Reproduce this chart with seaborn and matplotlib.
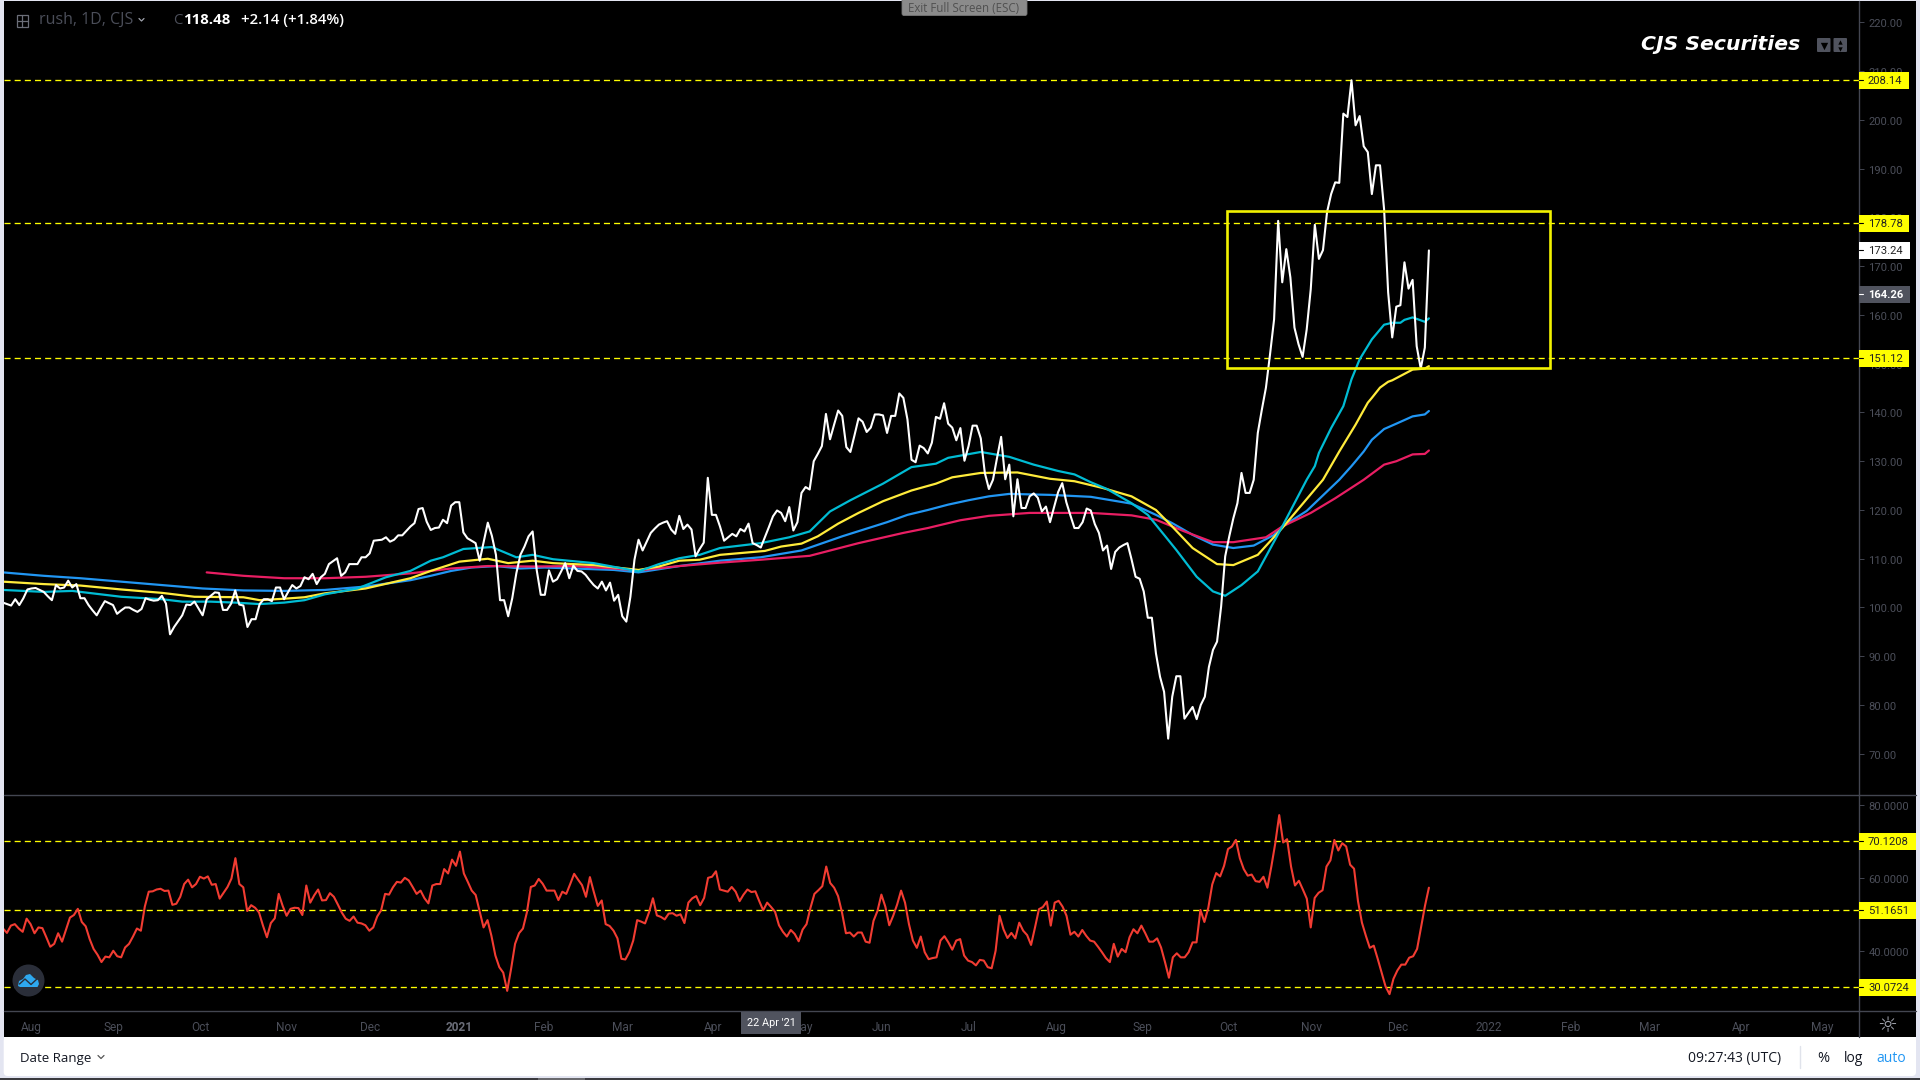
import numpy as np
import pandas as pd
import seaborn as sns
import matplotlib
matplotlib.use('Agg')
import matplotlib.pyplot as plt
from matplotlib.patches import Rectangle, FancyBboxPatch, Ellipse, Polygon
from matplotlib.transforms import ScaledTranslation

# Daily close, one value per bar
close = [
    101.0, 100.7, 100.4, 101.7, 100.5, 101.9, 103.7, 103.9, 104.0, 103.6,
    103.2, 102.3, 101.5, 104.6, 103.9, 104.1, 105.5, 104.1, 104.8, 101.9,
    101.9, 100.5, 99.4, 98.4, 99.9, 101.3, 100.9, 100.5, 98.7, 99.4,
    100.0, 100.0, 99.5, 99.1, 99.7, 101.9, 101.6, 101.4, 101.5, 102.4,
    100.8, 94.5, 96.0, 97.2, 98.4, 100.6, 100.5, 101.2, 99.8, 98.4,
    101.7, 102.4, 103.1, 103.0, 99.5, 99.5, 100.8, 103.5, 100.6, 100.4,
    96.0, 97.6, 97.6, 100.7, 101.7, 101.7, 101.3, 104.1, 104.1, 101.7,
    103.2, 104.6, 103.9, 104.4, 106.2, 105.8, 106.9, 104.8, 106.2, 106.9,
    108.9, 109.5, 110.1, 106.5, 107.2, 108.9, 108.9, 108.9, 110.3, 110.3,
    111.1, 113.7, 113.8, 113.9, 114.4, 113.5, 113.9, 114.8, 114.8, 115.7,
    116.6, 117.3, 120.2, 120.4, 117.6, 115.9, 116.3, 116.4, 118.0, 117.3,
    120.9, 121.6, 121.6, 115.4, 114.2, 113.7, 113.2, 109.6, 113.5, 117.4,
    114.7, 110.8, 101.5, 101.5, 98.2, 101.9, 107.0, 110.8, 112.5, 114.6,
    115.6, 107.7, 102.6, 102.6, 107.6, 105.3, 105.8, 107.4, 109.1, 106.0,
    108.6, 107.5, 107.4, 106.7, 105.6, 104.6, 103.9, 105.3, 103.5, 105.1,
    101.4, 102.6, 98.2, 97.1, 102.2, 109.8, 113.9, 111.7, 113.5, 115.3,
    116.2, 117.0, 117.4, 117.7, 116.0, 115.1, 118.8, 116.1, 117.0, 116.0,
    110.5, 112.0, 113.3, 126.6, 119.0, 119.0, 116.6, 113.7, 114.4, 115.1,
    114.6, 116.1, 115.6, 117.2, 113.2, 112.8, 112.3, 114.4, 116.5, 118.7,
    119.9, 119.4, 117.7, 120.6, 115.8, 117.5, 123.5, 124.7, 124.2, 130.0,
    131.5, 133.1, 139.7, 134.5, 137.5, 140.4, 139.3, 132.9, 131.9, 135.3,
    138.8, 138.1, 136.0, 136.9, 139.6, 139.6, 139.4, 135.8, 139.3, 139.3,
    143.9, 143.0, 138.6, 130.3, 129.8, 133.2, 132.7, 131.6, 133.8, 139.1,
    138.7, 141.9, 137.7, 136.9, 134.3, 136.8, 130.1, 133.1, 137.3, 137.3,
    134.7, 127.6, 124.3, 126.2, 130.7, 135.0, 126.3, 129.3, 118.7, 126.3,
    120.4, 120.4, 122.8, 123.4, 122.5, 119.7, 120.7, 117.5, 120.6, 123.7,
    125.5, 121.6, 118.9, 116.3, 116.3, 117.5, 120.3, 119.9, 117.1, 115.3,
    111.7, 112.7, 107.9, 111.4, 112.3, 112.8, 113.2, 109.9, 106.3, 105.9,
    103.3, 97.9, 97.9, 90.6, 85.8, 82.7, 73.1, 81.7, 85.9, 85.9,
    77.2, 78.4, 79.6, 77.1, 80.0, 81.7, 87.8, 91.3, 93.0, 100.2,
    110.5, 114.6, 118.3, 121.4, 127.6, 123.5, 123.5, 126.2, 135.8, 140.6,
    145.1, 151.9, 159.1, 179.3, 166.7, 173.5, 167.7, 157.4, 154.0, 151.4,
    157.0, 165.3, 178.5, 171.5, 173.3, 181.1, 184.8, 187.2, 187.1, 201.3,
    200.6, 208.14, 198.9, 200.8, 194.6, 193.4, 184.8, 190.7, 190.7, 181.7,
    164.6, 155.4, 161.7, 162.0, 170.8, 165.4, 167.2, 153.6, 149.0, 153.3,
    173.24,
]

# Moving averages, read at the bars where they bend
cyan_bars = [0, 10, 17, 29, 39, 44, 51, 57, 63, 69, 74, 79, 87, 94, 100, 105, 108, 113, 120, 126, 130, 135, 145, 156,
             161, 166, 171, 176, 186, 193, 198, 203, 208, 216, 223, 229, 232, 240, 247, 253, 259, 263, 267, 271, 277,
             281, 285, 288, 293, 297, 300, 304, 308, 314, 320, 322, 323, 326, 329, 331, 333, 336, 339, 341, 343, 344,
             346, 349, 350]
cyan_vals = [103.6, 103.2, 103.4, 102.2, 101.7, 101.2, 101.2, 101.0, 100.7, 101.0, 101.5, 102.7, 103.9, 106.2, 107.5,
             109.6, 110.3, 112.0, 112.4, 110.3, 110.8, 109.9, 109.1, 107.4,
             108.9, 110.1, 110.8, 112.2, 113.2, 114.4, 115.6, 119.7, 122.0, 125.4, 128.8, 129.5, 130.7, 131.9, 130.9,
             129.3, 128.0, 127.3, 125.7, 124.3, 121.4, 119.0, 114.9, 111.8, 106.3, 103.3, 102.4, 104.6, 107.4, 116.6,
             126.2, 129.0, 131.7, 136.8, 141.3, 146.8, 150.9, 155.0, 158.0, 158.4, 158.4, 159.0, 159.5, 158.6, 159.3]

yellow_bars = [0, 10, 19, 29, 39, 47, 59, 63, 69, 74, 79, 89, 100, 105, 112, 119, 124, 130, 135, 145, 156,
               161, 166, 171, 176, 187, 191, 196, 200, 205, 210, 216, 223, 229, 233, 240, 249, 257, 263, 270, 277,
               283, 287, 292, 298, 302, 308, 314, 324, 328, 332, 335, 336, 338, 340, 341, 346, 349, 350]
yellow_vals = [105.3, 104.8, 104.5, 103.7, 103.0, 102.2, 102.1, 101.5, 101.8, 102.1, 102.9, 103.9, 106.0, 107.5, 109.4,
               110.0, 109.1, 109.6, 109.1, 108.7, 107.7,
               108.4, 109.6, 109.8, 110.8, 111.6, 112.5, 113.1, 114.6, 117.2, 119.4, 121.8, 124.0, 125.4, 126.7, 127.6,
               127.7, 126.4, 125.9, 124.5, 122.8, 120.0, 116.6, 112.2, 108.9, 108.7, 110.8, 116.3,
               126.2, 132.0, 137.5, 142.0, 143.0, 145.1, 146.3, 146.6, 148.8, 149.0, 149.5]

blue_bars = [0, 10, 19, 29, 39, 49, 59, 69, 79, 89, 100, 105, 110, 115, 121, 127, 133, 140, 150, 156,
             166, 176, 186, 196, 206, 217, 222, 227, 232, 237, 242, 247, 257, 267, 277, 283, 287, 292, 297, 302, 307,
             312, 314, 320, 328, 331, 334, 336, 339, 342, 346, 349, 350]
blue_vals = [107.2, 106.5, 106.0, 105.3, 104.6, 103.9, 103.5, 103.4, 103.6, 104.3, 105.6, 106.5, 107.5, 108.2, 108.5,
             108.0, 108.2, 108.0, 107.7, 107.2,
             108.5, 109.6, 110.3, 111.7, 114.6, 117.5, 119.0, 120.0, 121.1, 122.0, 122.8, 123.3, 123.1, 122.7, 121.3,
             119.0, 117.3, 114.9, 112.9, 112.2, 112.7, 114.9, 116.6, 119.8, 126.2, 129.0, 132.0, 134.4, 136.6, 137.7,
             139.2, 139.6, 140.3]

pink_bars = [50, 59, 69, 79, 89, 100, 110, 119, 130, 140, 150, 156,
             166, 176, 186, 198, 210, 221, 227, 235, 242, 252, 267, 277, 283, 290, 297, 302, 310, 314, 321, 327,
             334, 339, 342, 346, 349, 350]
pink_vals = [107.2, 106.5, 106.0, 106.0, 106.3, 107.0, 108.0, 108.5, 108.4, 108.5, 108.0, 107.6,
             108.5, 109.2, 109.8, 110.6, 113.2, 115.3, 116.3, 117.9, 118.8, 119.4, 119.4, 118.9, 118.0, 115.6, 113.4,
             113.4, 114.4, 116.6, 119.4, 122.4, 126.2, 129.3, 130.0, 131.4, 131.5, 132.2]

# RSI pane
rsi = [
    46.2, 45.0, 47.0, 47.4, 46.2, 45.3, 48.9, 47.4, 44.9, 46.5, 46.3, 43.8, 41.2, 42.0, 44.9, 42.6, 45.9, 49.2, 49.9,
    51.6, 48.0, 46.8, 43.3, 40.6, 39.0, 37.0, 38.5, 38.3, 40.1, 38.6, 38.3, 41.0, 42.0, 44.0, 46.2, 45.6, 52.2, 56.3,
    56.4, 56.9, 57.1, 56.5, 56.6, 52.7, 53.0, 54.9, 58.4, 59.6, 57.5, 58.4, 60.4, 59.9, 60.5, 58.2, 58.4, 54.4, 56.0,
    57.6, 59.9, 65.5, 58.4, 57.5, 51.0, 52.6, 51.9, 50.6, 47.0, 43.8, 47.7, 49.0, 55.7, 52.4, 49.7, 51.6, 51.9, 51.8,
    49.9, 58.0, 53.3, 55.3, 56.9, 53.9, 54.0, 55.9, 54.9, 52.8, 50.6, 48.9, 48.3, 49.5, 47.8, 47.6, 47.1, 45.6, 46.5,
    49.5, 51.2, 55.7, 55.5, 57.5, 59.0, 58.8, 60.1, 59.4, 57.6, 55.7, 56.6, 54.5, 53.1, 58.0, 58.4, 58.4, 62.5, 61.3,
    65.1, 63.4, 67.3, 61.3, 59.0, 56.6, 55.4, 51.0, 46.5, 48.5, 44.2, 38.8, 35.6, 34.1, 29.1, 35.2, 42.0, 44.9, 46.2,
    50.6, 57.6, 58.0, 59.8, 58.5, 56.6, 56.6, 56.6, 54.0, 56.3, 55.7, 58.4, 61.2, 59.6, 58.1, 54.9, 60.3, 56.2, 52.4,
    53.9, 47.4, 46.9, 45.6, 43.5, 37.9, 37.7, 39.7, 42.9, 48.5, 48.1, 47.6, 50.6, 54.5, 49.8, 49.4, 48.7, 50.3, 50.4,
    49.7, 50.1, 47.7, 53.3, 54.5, 55.1, 52.6, 54.6, 60.1, 60.4, 61.9, 56.9,
    56.6, 56.3, 57.6, 56.3, 53.7, 55.5, 56.9, 56.2, 56.4, 53.7, 51.2, 53.3, 52.1, 50.8, 47.1, 45.3, 44.0, 45.8, 44.7,
    42.7, 45.9, 47.4, 51.9, 55.7, 56.7, 57.8, 63.2, 58.7, 57.4, 55.1, 50.6, 44.9, 45.1, 44.0, 45.1, 45.1, 42.6, 42.3,
    48.3, 51.0, 55.5, 52.2, 47.1, 49.7, 52.8, 56.6, 53.3, 47.4, 42.9, 40.9, 44.0, 39.7, 37.8, 38.1, 38.3, 42.9, 44.1,
    42.4, 40.4, 42.9, 43.3, 38.8, 37.4, 37.0, 36.1, 37.6, 37.4, 35.6, 35.3, 40.1, 49.7, 46.0, 43.6, 45.0, 43.5, 47.8,
    45.6, 44.4, 41.7, 46.5, 51.5, 52.1, 53.6, 47.0, 53.3, 53.8, 52.2, 49.7, 44.5, 45.3, 44.0, 45.8, 44.2, 42.9, 42.6,
    41.2, 39.7, 38.1, 37.0, 42.0, 38.5, 40.6, 39.7, 43.8, 46.0, 44.9, 47.0, 44.9, 42.6, 42.6, 43.5, 41.0, 37.0, 32.7,
    38.3, 39.4, 38.3, 38.3, 39.7, 42.4, 42.4, 51.3, 48.0, 51.9, 58.3, 61.4, 60.5, 63.4, 68.0, 68.7, 70.5, 65.5, 62.5,
    60.7, 61.0, 59.2, 59.0, 60.4, 57.4, 63.2, 69.6, 77.3, 69.8, 70.7, 63.2, 58.0, 59.3, 56.9, 54.4, 46.5, 54.6, 56.0,
    56.7, 63.2, 64.9, 70.5, 67.6, 69.6, 68.7, 63.7, 62.6, 53.7, 47.8, 44.2, 40.9, 41.5, 37.9, 34.1, 30.3, 28.2, 32.4,
    34.7, 36.3, 36.3, 38.2, 38.6, 40.6, 46.5, 52.4, 57.4,
]

# Levels, axis ticks and the boxed range
price_levels = [208.14, 178.78, 151.12]
rsi_levels = [70.1208, 51.1651, 30.0724]
price_ticks = [70, 80, 90, 100, 110, 120, 130, 140, 150, 160, 170, 180, 190, 200, 210, 220]
rsi_ticks = [40, 60, 80]
last_close = 173.24
prev_marker = 164.26
box_bars = (300.5, 379.7)
box_prices = (149.1, 181.3)
month_bars = [7, 27.2, 48.4, 69.7, 90, 112, 132.6, 152, 174.2, 196, 215.7, 237, 258.5, 279.6, 300.8, 321.2, 342.4,
              364.6, 384.8, 404.2, 426.6, 446.6]
month_labels = ['Aug', 'Sep', 'Oct', 'Nov', 'Dec', '2021', 'Feb', 'Mar', 'Apr', 'May', 'Jun', 'Jul', 'Aug', 'Sep',
                'Oct', 'Nov', 'Dec', '2022', 'Feb', 'Mar', 'Apr', 'May']

# Screen layout in pixels
W, H = 1920, 1080
LEFT, AXIS_X, SPLIT_Y, XAXIS_Y, PANEL_Y, RIGHT = 3.7, 1859.3, 795, 1011, 1037, 1916
PX_PER_BAR = 4.074

DIM = '#4b4e59'
LINE = '#434651'
TAG_GREY = '#50535e'
YELLOW = '#ffff00'
OPEN = ['Open Sans', 'DejaVu Sans']

sns.set_style('dark', {'axes.facecolor': 'black', 'figure.facecolor': '#e3e5f1', 'axes.grid': False})
plt.rcParams['font.family'] = ['Roboto', 'DejaVu Sans']

fig = plt.figure(figsize=(W / 100, H / 100), dpi=100)
nudge = ScaledTranslation(0, -1 / 100, fig.dpi_scale_trans)


def px_axes(z):
    a = fig.add_axes([0, 0, 1, 1], zorder=z)
    a.set_xlim(0, W)
    a.set_ylim(H, 0)
    a.axis('off')
    return a


def pane(top, bottom, ylim):
    a = fig.add_axes([LEFT / W, 1 - bottom / H, (AXIS_X - LEFT) / W, (bottom - top) / H], zorder=1)
    a.set_xlim((LEFT - 3) / PX_PER_BAR, (AXIS_X - 3) / PX_PER_BAR)
    a.set_ylim(*ylim)
    sns.despine(ax=a, left=True, bottom=True)
    a.spines['right'].set_visible(False)
    return a


back = px_axes(0)
over = px_axes(2)

# Page pieces behind the panes
back.add_patch(Rectangle((LEFT, 1), RIGHT - LEFT, PANEL_Y - 1, color='black', lw=0))
back.add_patch(FancyBboxPatch((LEFT, PANEL_Y), RIGHT - LEFT, 39, boxstyle='round,pad=0,rounding_size=4',
                              fc='white', ec='none', lw=0))
back.add_patch(Rectangle((LEFT, PANEL_Y), RIGHT - LEFT, 12, color='white', lw=0))
back.add_patch(Rectangle((0, 1077.5), W, 3, color='#3a3a3e', lw=0))
back.add_patch(Rectangle((538, 1077.5), 47, 3, color='#6a6a6e', lw=0))

ax = pane(1, SPLIT_Y, (61.54, 224.4))
ax2 = pane(SPLIT_Y, XAXIS_Y, (23.58, 82.82))

# Price pane
bars = np.arange(len(close))
for b, v, c in [(blue_bars, blue_vals, '#2196f3'), (pink_bars, pink_vals, '#e91e63'),
                (yellow_bars, yellow_vals, '#ffeb3b'), (cyan_bars, cyan_vals, '#00bcd4')]:
    ma = pd.DataFrame({'bar': b, 'value': v})
    sns.lineplot(data=ma, x='bar', y='value', ax=ax, color=c, linewidth=1.6, estimator=None, sort=False, legend=False)
sns.lineplot(x=bars, y=close, ax=ax, color='white', linewidth=1.5, estimator=None, sort=False, legend=False)
for lv in price_levels:
    ax.axhline(lv, color=YELLOW, lw=0.95, ls=(0, (4.6, 3.1)), zorder=1.5)
ax.add_patch(Rectangle((box_bars[0], box_prices[0]), box_bars[1] - box_bars[0], box_prices[1] - box_prices[0],
                       fill=False, ec='#f2f200', lw=1.9, zorder=4))
ax.set_xlabel('')
ax.set_ylabel('')
ax.set_xticks([])
ax.yaxis.tick_right()
ax.set_yticks(price_ticks)
ax.set_yticklabels(['%.2f' % t for t in price_ticks])
ax.tick_params(axis='y', length=3.6, width=0.7, color=LINE, labelcolor=DIM, labelsize=8.1, pad=3)

# RSI pane
rsi_x = np.linspace(0, len(close) - 1, len(rsi))
sns.lineplot(x=rsi_x, y=rsi, ax=ax2, color='#f23c32', linewidth=1.5, estimator=None, sort=False, legend=False)
for lv in rsi_levels:
    ax2.axhline(lv, color=YELLOW, lw=0.95, ls=(0, (4.6, 3.1)), zorder=1.5)
ax2.set_xlabel('')
ax2.set_ylabel('')
ax2.yaxis.tick_right()
ax2.set_yticks(rsi_ticks)
ax2.set_yticklabels(['%.4f' % t for t in rsi_ticks])
ax2.tick_params(axis='y', length=3.6, width=0.7, color=LINE, labelcolor=DIM, labelsize=8.1, pad=3)
ax2.set_xticks(month_bars)
ax2.set_xticklabels(month_labels)
ax2.tick_params(axis='x', length=2.5, width=0.7, color=LINE, labelcolor=DIM, labelsize=8.6, pad=5)
for t in ax2.get_xticklabels():
    if t.get_text() == '2021':
        t.set_color('#6a6d78')
        t.set_fontweight('bold')
for a in (ax, ax2):
    for t in a.get_yticklabels():
        t.set_transform(t.get_transform() + nudge)

# Axis lines
over.plot([LEFT, RIGHT], [SPLIT_Y, SPLIT_Y], color=LINE, lw=1)
over.plot([LEFT, RIGHT], [XAXIS_Y, XAXIS_Y], color=LINE, lw=1)
over.plot([AXIS_X, AXIS_X], [1, PANEL_Y], color=LINE, lw=1)


# Price tags on the right hand axis
def tag(a, value, text, face, ink, right=1909, weight='normal', dash='black'):
    y = H - a.transData.transform((0, value))[1]
    over.add_patch(Rectangle((AXIS_X, y - 8.5), right - AXIS_X, 17, color=face, lw=0, zorder=5))
    over.plot([AXIS_X, AXIS_X + 4], [y, y], color=dash, lw=0.8, zorder=6)
    over.text(1868, y + 0.7, text, color=ink, fontsize=8.1, va='center', ha='left', fontweight=weight, zorder=6)


for lv in price_levels:
    tag(ax, lv, '%.2f' % lv, YELLOW, '#222222')
tag(ax, last_close, '%.2f' % last_close, 'white', '#222222', right=1910)
tag(ax, prev_marker, '%.2f' % prev_marker, TAG_GREY, 'white', right=1910, weight='bold', dash='white')
for lv in rsi_levels:
    tag(ax2, lv, '%.4f' % lv, YELLOW, '#222222', right=RIGHT)

# Date crosshair tag
over.add_patch(Rectangle((741, 1012), 60, 22, color=TAG_GREY, lw=0, zorder=5))
over.text(771, 1023, "22 Apr '21", color='white', fontsize=7.8, ha='center', va='center', zorder=6)

# Header
over.add_patch(Rectangle((16.5, 15), 11.5, 11.5, fill=False, ec='#6b6e78', lw=0.9))
over.plot([22.2, 22.2], [15, 26.5], color='#6b6e78', lw=0.9)
over.plot([16.5, 28], [20.7, 20.7], color='#6b6e78', lw=0.9)
over.text(39, 20, 'rush, 1D, CJS', color=DIM, fontsize=11.5, va='center', family=OPEN)
over.plot([139, 141.5, 144], [18.5, 21, 18.5], color='#a0a3ad', lw=0.9)
over.text(173, 20, 'C', color=DIM, fontsize=10.8, va='center', family=OPEN)
over.text(183, 20, '118.48', color='white', fontsize=10.8, va='center', fontweight='bold', family=OPEN)
over.text(241, 20, '+2.14 (+1.84%)', color='white', fontsize=10.8, va='center', fontweight='semibold', family=OPEN)

# Full screen notice
over.add_patch(FancyBboxPatch((904, -6), 121, 19.5, boxstyle='round,pad=2', fc='#8b8b8b', ec='#777777', lw=0.6))
over.text(964, 8, 'Exit Full Screen (ESC)', color='#505050', fontsize=8.3, ha='center', va='center', family=OPEN)

# Watermark and its two small buttons
over.text(1641, 45, 'CJS Securities', color='white', fontsize=14.7, fontweight='bold', fontstyle='oblique',
          va='center', family='DejaVu Sans')
for bx in (1817, 1833.5):
    over.add_patch(FancyBboxPatch((bx + 1, 39), 11.5, 12, boxstyle='round,pad=1', fc=TAG_GREY, ec='none'))
over.scatter([1824], [45.5], marker='v', s=28, color='black', lw=0, zorder=3)
over.scatter([1840], [42.3], marker='^', s=10, color='black', lw=0, zorder=3)
over.scatter([1840], [48.7], marker='v', s=10, color='black', lw=0, zorder=3)

# Logo
over.add_patch(Ellipse((28.5, 980.5), 32, 32, color='#2a2e39', lw=0))
over.add_patch(Polygon([(18, 986), (19, 981), (23, 979), (26, 975), (30, 974), (34, 978), (38, 980), (39, 984),
                        (37.5, 987), (20, 987)], color='#2ea8ef', lw=0))
over.plot([19.5, 25, 31, 38], [984, 979, 984.5, 978], color='#2a2e39', lw=1)

# Gear
over.text(1887.5, 1026, '☼', color='#a3a6b0', fontsize=16, ha='center', va='center', family='DejaVu Sans')

# Bottom toolbar
ink = '#131722'
over.text(20, 1058.5, 'Date Range', color=ink, fontsize=9.5, va='center', family=OPEN)
over.plot([98, 101, 104], [1055.5, 1058.5, 1055.5], color='#555555', lw=0.9)
over.text(1688, 1058.5, '09:27:43 (UTC)', color=ink, fontsize=10, va='center', family=OPEN)
over.plot([1799.5, 1799.5], [1046, 1068], color='#e0e3eb', lw=1)
over.text(1823, 1058, '%', color=ink, fontsize=10.5, ha='center', va='center', family=OPEN)
over.text(1854, 1058, 'log', color=ink, fontsize=10, ha='center', va='center', family=OPEN)
over.text(1891, 1058.5, 'auto', color='#2196f3', fontsize=10, ha='center', va='center', family=OPEN)

fig.savefig('out.png', dpi=100, facecolor=fig.get_facecolor())
